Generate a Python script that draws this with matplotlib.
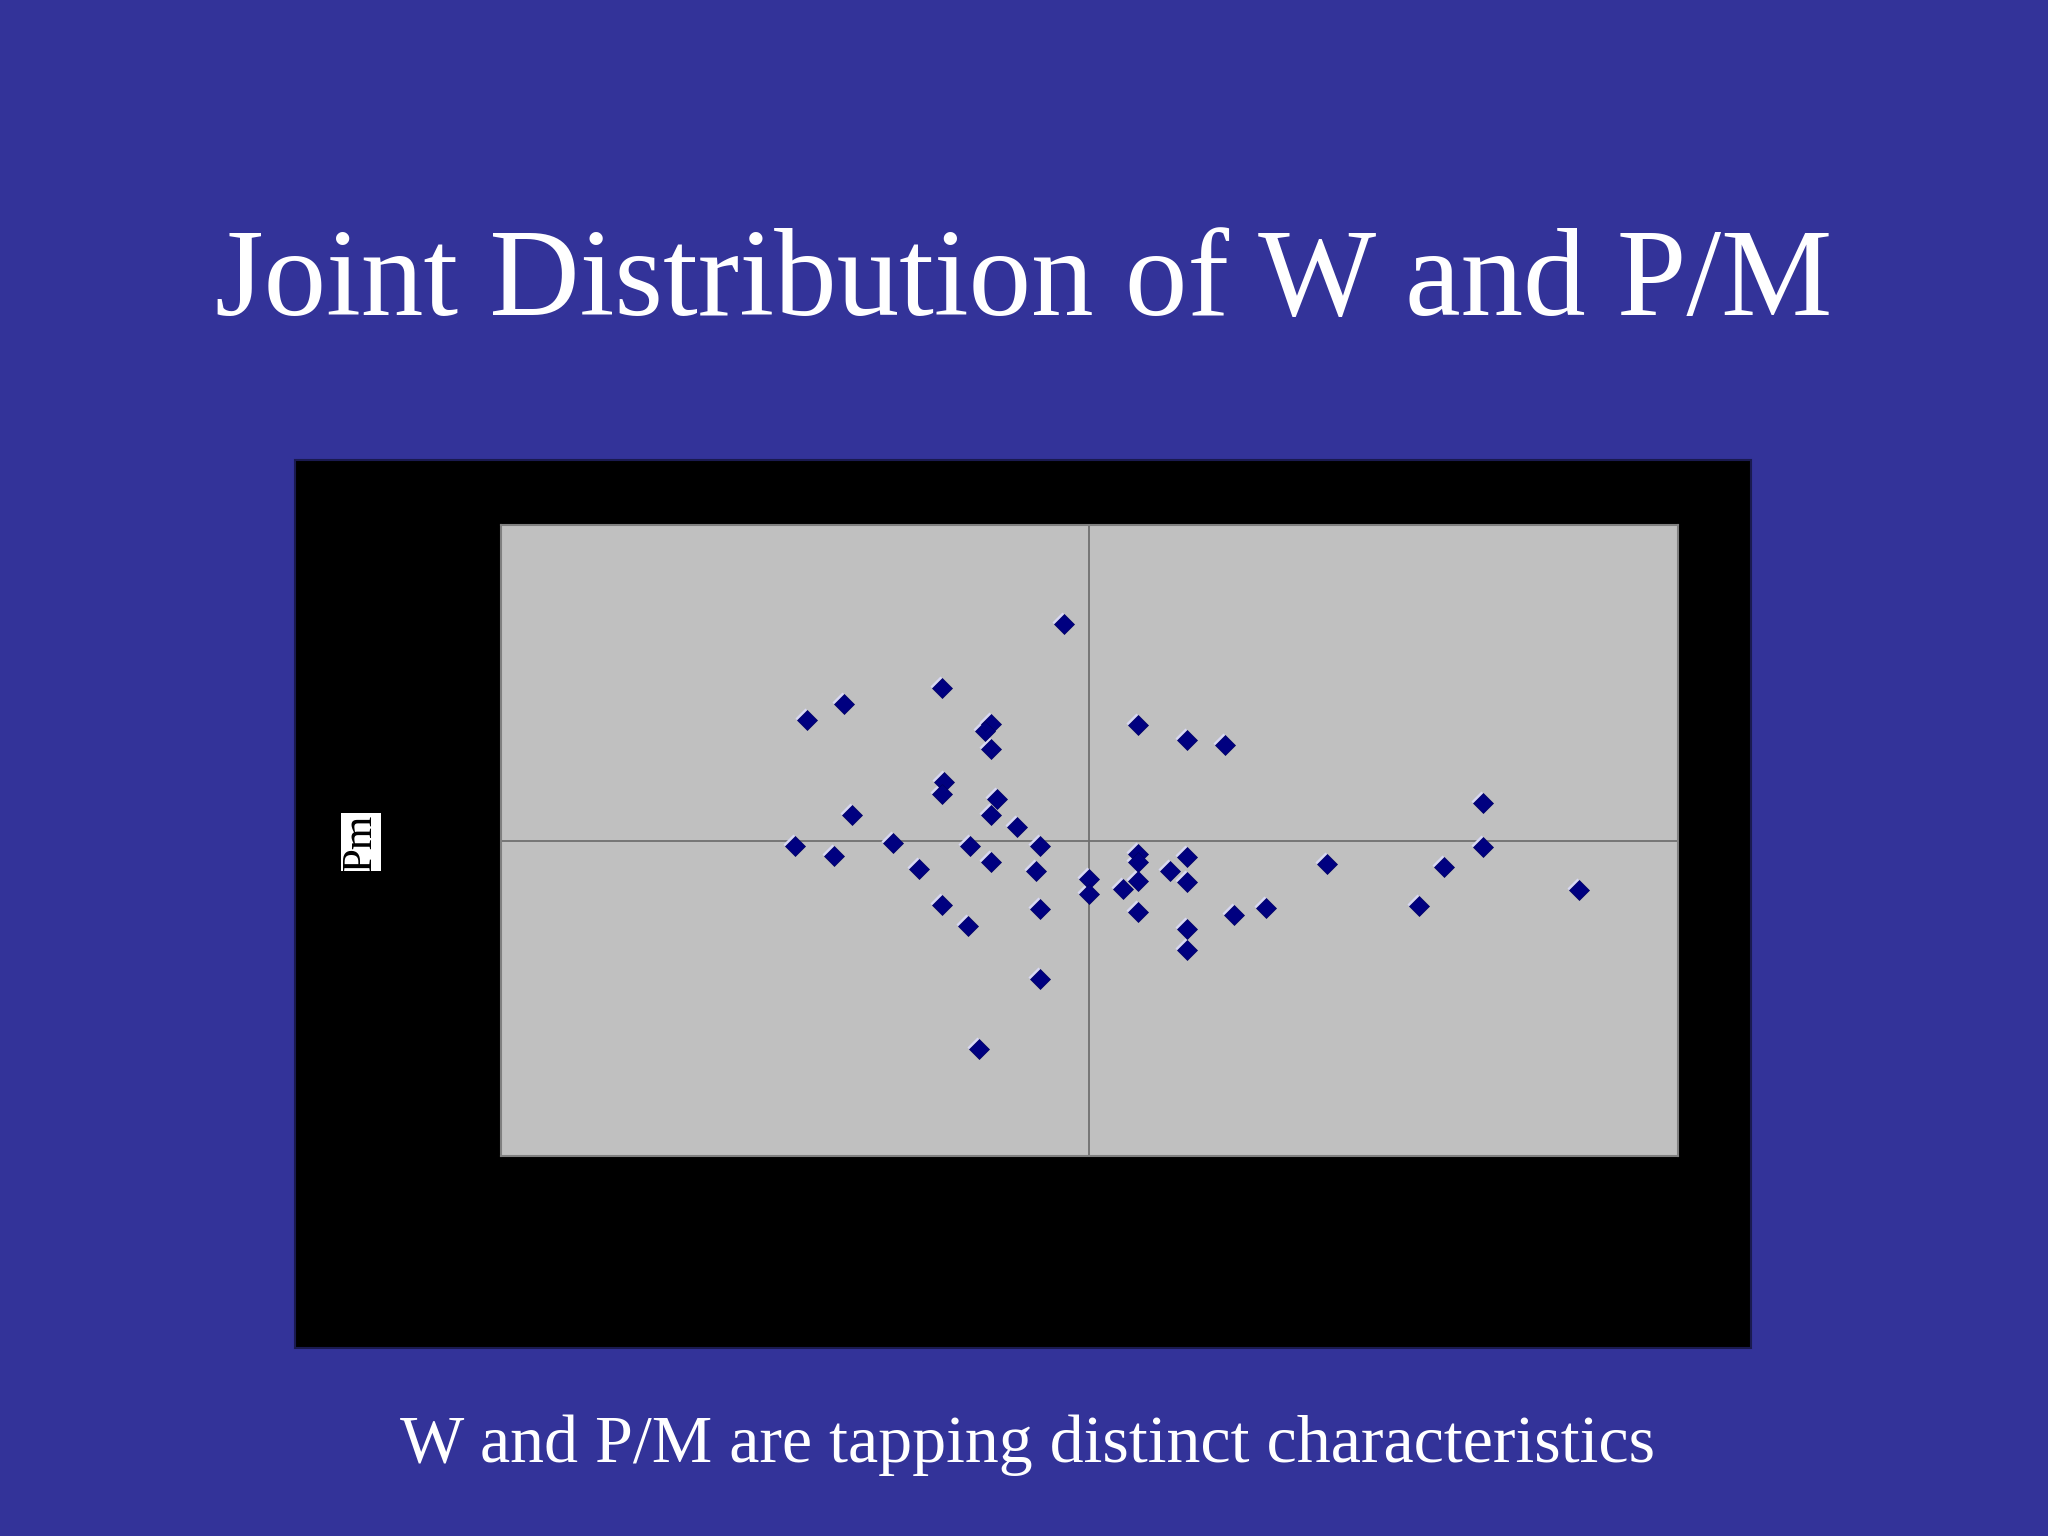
import matplotlib
matplotlib.use("Agg")
import matplotlib.pyplot as plt
import matplotlib.transforms as mtransforms
from matplotlib.patches import Rectangle

# W (x) and P/M (y) scores
w = [-0.13, -0.75, -1.25, -1.44, -0.50, -0.53, -0.50, -0.74, -0.75, -0.47,
     -1.21, -0.50, -0.37, -1.50, -1.00, -0.61, -0.25, -1.30, -0.50, -0.87,
     -0.27, -0.75, -0.62, -0.25, -0.25, -0.56, 0.00, 0.00, 0.17, 0.25,
     0.25, 0.25, 0.25, 0.25, 0.50, 0.69, 0.50, 0.41, 0.50, 0.50,
     0.50, 0.74, 0.90, 1.21, 1.68, 1.81, 2.01, 2.01, 2.50]
pm = [2.06, 1.45, 1.30, 1.15, 1.11, 1.05, 0.87, 0.56, 0.45, 0.40,
      0.25, 0.25, 0.13, -0.05, -0.02, -0.05, -0.05, -0.14, -0.20, -0.27,
      -0.29, -0.61, -0.81, -0.65, -1.31, -1.98, -0.36, -0.50, -0.46, -0.12,
      -0.20, -0.38, -0.68, 1.10, 0.96, 0.91, -0.15, -0.29, -0.39, -0.84,
      -1.04, -0.70, -0.64, -0.22, -0.62, -0.25, 0.36, -0.06, -0.47]

title = "Joint Distribution of W and P/M"
subtitle = "W and P/M are tapping distinct characteristics"
ylab = "Pm"

bg = "#333399"
serif = ["Liberation Serif", "DejaVu Serif"]

fig = plt.figure(figsize=(20.48, 15.36), dpi=100, facecolor=bg)

# black chart frame
fig.patches.append(Rectangle((0.1440, 0.1224), 0.7109, 0.5781, transform=fig.transFigure,
                             facecolor="black", edgecolor="#1a1a50", lw=1.5, zorder=0))

ax = fig.add_axes([0.2446, 0.2471, 0.5745, 0.4108])
ax.set_zorder(2)
ax.set_facecolor("#c0c0c0")
for s in ax.spines.values():
    s.set_color("#808080")
    s.set_linewidth(1.5)
ax.set_xlim(-3, 3)
ax.set_ylim(-3, 3)
ax.set_xticks([])
ax.set_yticks([])
ax.axhline(0, color="#707070", lw=1.3, zorder=1)
ax.axvline(0, color="#707070", lw=1.3, zorder=1)

# light edge behind each diamond, shifted up-left
hl = mtransforms.offset_copy(ax.transData, fig=fig, x=-2.0, y=2.0, units="dots")
ax.plot(w, pm, ls="none", marker="D", ms=10.5, color="#d8d8f4", mec="none", transform=hl, zorder=2)
ax.plot(w, pm, ls="none", marker="D", ms=10.5, color="#000080", mec="#000060", mew=0.5, zorder=3)

fig.text(361 / 2048, 1 - 842 / 1536, ylab, rotation=90, ha="center", va="center",
         fontsize=31, family=serif, color="black", zorder=3,
         bbox=dict(facecolor="white", edgecolor="none", pad=0.5))

fig.text(0.5, 1 - 315 / 1536, title, ha="center", va="baseline",
         fontsize=90, family=serif, color="white")
fig.text(0.5015, 1 - 1462 / 1536, subtitle, ha="center", va="baseline",
         fontsize=49, family=serif, color="white")

fig.savefig("out.png", dpi=100, facecolor=bg)
